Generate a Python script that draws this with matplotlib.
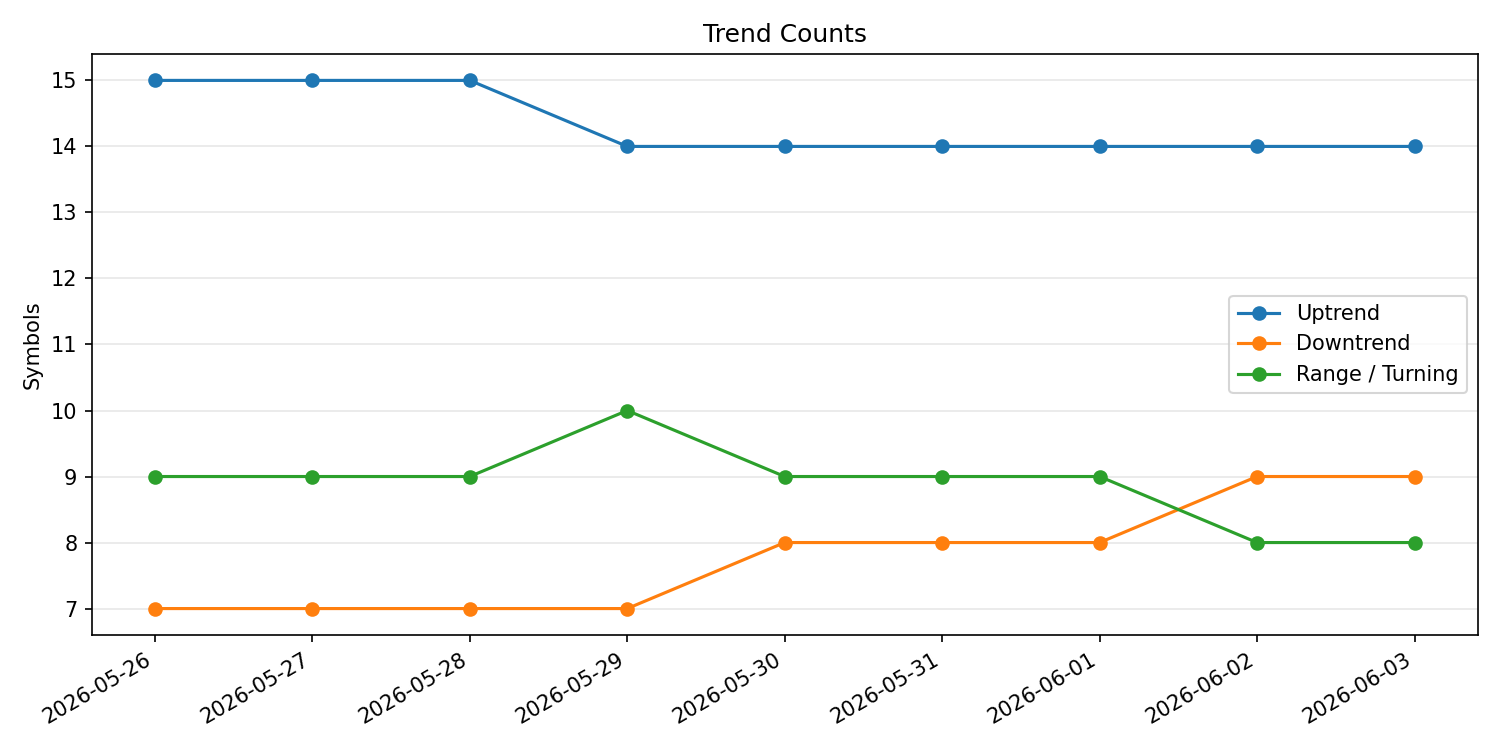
import matplotlib
matplotlib.use("Agg")
import matplotlib.pyplot as plt

dates = [
    "2026-05-26", "2026-05-27", "2026-05-28", "2026-05-29", "2026-05-30",
    "2026-05-31", "2026-06-01", "2026-06-02", "2026-06-03",
]
uptrend = [15, 15, 15, 14, 14, 14, 14, 14, 14]
downtrend = [7, 7, 7, 7, 8, 8, 8, 9, 9]
range_turning = [9, 9, 9, 10, 9, 9, 9, 8, 8]

fig, ax = plt.subplots(figsize=(10, 5), dpi=150)
ax.plot(dates, uptrend, marker="o", label="Uptrend")
ax.plot(dates, downtrend, marker="o", label="Downtrend")
ax.plot(dates, range_turning, marker="o", label="Range / Turning")
ax.set_title("Trend Counts")
ax.set_ylabel("Symbols")
ax.grid(axis="y", alpha=0.3)
ax.legend(loc="center right")
fig.autofmt_xdate()
fig.tight_layout()
fig.savefig("out.png")
